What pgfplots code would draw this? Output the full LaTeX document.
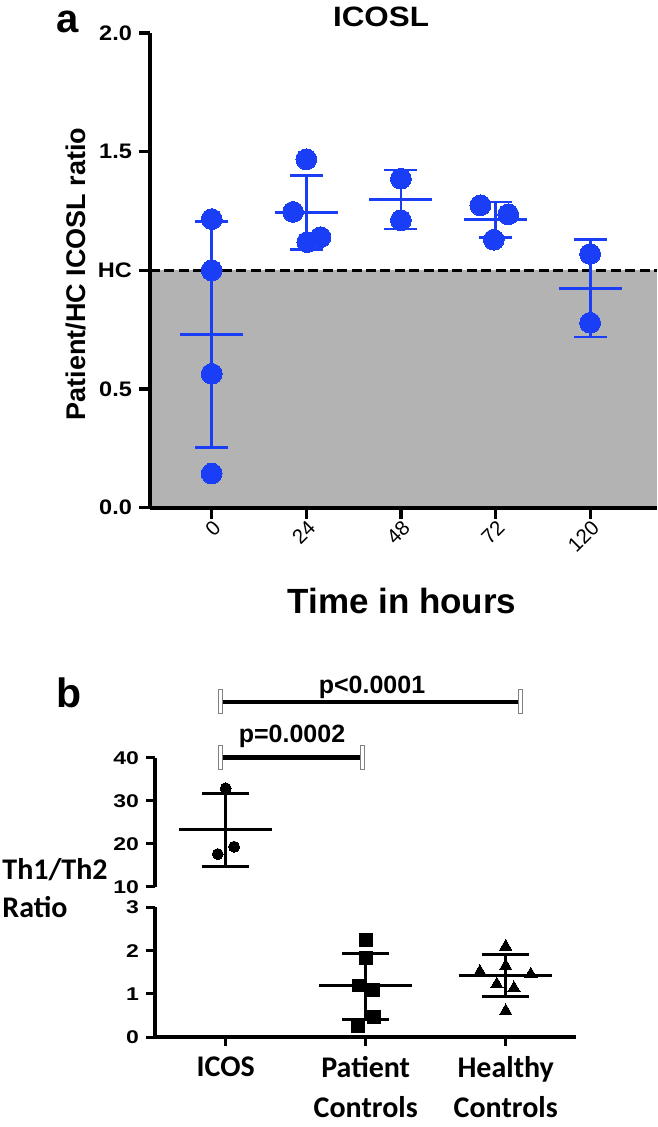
\documentclass[border=0pt]{standalone}
\usepackage{pgfplots}
\pgfplotsset{compat=1.18}
\usepackage{fontspec}
\setmainfont{Liberation Sans}
\newfontfamily\calib{Carlito}
\newfontfamily\arialw[FakeStretch=1.12]{Liberation Sans}
\newfontfamily\arialww[FakeStretch=1.25]{Liberation Sans}
\definecolor{pblue}{RGB}{25,62,245}
\definecolor{shade}{RGB}{179,179,179}

\begin{document}
\begin{tikzpicture}[x=0.5pt,y=-0.5pt]
\useasboundingbox (0,0) rectangle (657,1127);

% ---------------- Panel a ----------------
\begin{axis}[
  at={(75pt,-253.85pt)}, anchor=south west,
  scale only axis, width=253.5pt, height=237.35pt,
  xmin=-0.652, xmax=4.707, ymin=0, ymax=2,
  axis x line=bottom, axis y line=left,
  axis line style={-, line width=2pt},
  axis on top, clip=false,
  tick align=outside, major tick length=5.5pt,
  tick style={black, line width=1.6pt},
  xtick={0,1,2,3,4}, xticklabels={0,24,48,72,120},
  ytick={0,0.5,1,1.5,2}, yticklabels={0.0,0.5,HC,1.5,2.0},
  xticklabel style={font=\fontsize{10.25}{12}\selectfont, rotate=45, anchor=east, inner sep=1pt, yshift=-4pt, xshift=1pt},
  yticklabel style={font=\arialw\bfseries\fontsize{10.5}{12}\selectfont},
]
\addplot[draw=none, fill=shade] coordinates {(-0.652,1) (4.707,1)} \closedcycle;
\addplot[black, line width=1.6pt, dash pattern=on 5pt off 2.2pt] coordinates {(-0.652,1) (4.707,1)};
% SD bars
\addplot[pblue, line width=1.4pt, mark=-, mark size=8.25pt, unbounded coords=jump] coordinates {
 (0,0.255) (0,1.207) (0,nan)
 (1,1.087) (1,1.399) (1,nan)
 (2,1.174) (2,1.423) (2,nan)
 (3,1.137) (3,1.288) (3,nan)
 (4,0.719) (4,1.129)};
% means
\addplot[pblue, line width=1.4pt, only marks, mark=-, mark size=15.75pt] coordinates {
 (0,0.731) (1,1.243) (2,1.299) (3,1.213) (4,0.924)};
% individual points
\addplot[only marks, mark=*, mark size=5.2pt, mark options={fill=pblue, draw=pblue, line width=0pt}] coordinates {
 (0,1.216) (0,1.0) (0,0.564) (0,0.144)
 (1,1.468) (0.86,1.246) (1.01,1.119) (1.15,1.14)
 (2,1.386) (2,1.211)
 (2.84,1.274) (3.134,1.236) (2.982,1.129)
 (4,1.069) (4,0.779)};
\end{axis}

\node[font=\bfseries\fontsize{20}{24}\selectfont, anchor=base] at (67.5,33) {a};
\node[font=\arialw\bfseries\fontsize{14}{17}\selectfont, anchor=base] at (381,27) {ICOSL};
\node[rotate=90, anchor=base, font=\bfseries\fontsize{13.5}{16}\selectfont] at (85,274) {Patient/HC ICOSL ratio};
\node[font=\bfseries\fontsize{17.5}{21}\selectfont, anchor=base] at (402,613) {Time in hours};

% ---------------- Panel b ----------------
% lower segment 0-3
\begin{axis}[
  at={(77.5pt,-518.5pt)}, anchor=south west,
  scale only axis, width=210.5pt, height=64.8pt,
  xmin=-0.505, xmax=2.502, ymin=0, ymax=3,
  axis x line=bottom, axis y line=left,
  axis line style={-, line width=1.8pt},
  clip=false,
  tick align=outside, major tick length=4.5pt,
  tick style={black, line width=1.5pt},
  xtick={0,1,2}, xticklabels={ICOS,{Patient\\Controls},{Healthy\\Controls}},
  xticklabel style={align=center, anchor=north, inner sep=1pt, yshift=-4pt, font=\calib\bfseries\fontsize{15}{20}\selectfont},
  ytick={0,1,2,3}, yticklabels={0,1,2,3},
  yticklabel style={font=\arialww\bfseries\fontsize{9.2}{10}\selectfont},
]
\addplot[black, line width=1.7pt, mark=-, mark size=11.75pt, unbounded coords=jump] coordinates {
 (1,0.40) (1,1.94) (1,nan)
 (2,0.94) (2,1.905)};
\addplot[black, line width=1.7pt, only marks, mark=-, mark size=23.25pt] coordinates {
 (1,1.19) (2,1.42)};
\addplot[only marks, mark=square*, mark size=3.15pt, mark options={fill=black, draw=black, line width=0pt}] coordinates {
 (1,2.25) (1,1.83) (0.952,1.19) (1.054,1.09) (1.06,0.46) (0.945,0.245)};
\addplot[only marks, mark=triangle*, mark size=3.6pt, mark options={fill=black, draw=black, line width=0pt}] coordinates {
 (2,2.09) (2,1.64) (1.816,1.51) (2.179,1.45) (1.936,1.22) (2.059,1.13) (2,0.60)};
\end{axis}

% upper segment 10-40
\begin{axis}[
  at={(77.5pt,-443.35pt)}, anchor=south west,
  scale only axis, width=210.5pt, height=64.5pt,
  xmin=-0.505, xmax=2.502, ymin=10, ymax=40,
  axis y line=left, axis x line=none,
  axis line style={-, line width=1.8pt},
  clip=false,
  tick align=outside, major tick length=4.5pt,
  tick style={black, line width=1.5pt},
  xtick=\empty,
  ytick={10,20,30,40}, yticklabels={10,20,30,40},
  yticklabel style={font=\arialww\bfseries\fontsize{9.2}{10}\selectfont},
]
\addplot[black, line width=1.7pt, mark=-, mark size=11.75pt] coordinates {(0,14.75) (0,31.7)};
\addplot[black, line width=1.7pt, only marks, mark=-, mark size=23.25pt] coordinates {(0,23.27)};
\addplot[only marks, mark=*, mark size=2.75pt, mark options={fill=black, draw=black, line width=0pt}] coordinates {
 (0,32.9) (0.06,19.3) (-0.057,17.6)};
\end{axis}

% significance bars
\draw[line width=2.2pt] (220,701.7) -- (520,701.7);
\draw[line width=2.2pt] (220,757.3) -- (362.7,757.3);
\foreach \xx/\yy in {220/701.7, 520/701.7, 220/757.3, 362.7/757.3}{
  \draw[fill=white, draw=gray, line width=0.4pt] (\xx-2,\yy-12) rectangle (\xx+2,\yy+12);
}
\node[font=\bfseries\fontsize{12.5}{15}\selectfont, anchor=base] at (292,742.7) {p=0.0002};
\node[font=\bfseries\fontsize{12.5}{15}\selectfont, anchor=base] at (372,693) {p<0.0001};

\node[font=\bfseries\fontsize{20.5}{24}\selectfont, anchor=base] at (69,707) {b};
\node[font=\calib\bfseries\fontsize{15}{18}\selectfont, anchor=base west, inner sep=0pt] at (2,879) {Th1/Th2};
\node[font=\calib\bfseries\fontsize{15}{18}\selectfont, anchor=base west, inner sep=0pt] at (2,917) {Ratio};
\end{tikzpicture}
\end{document}
